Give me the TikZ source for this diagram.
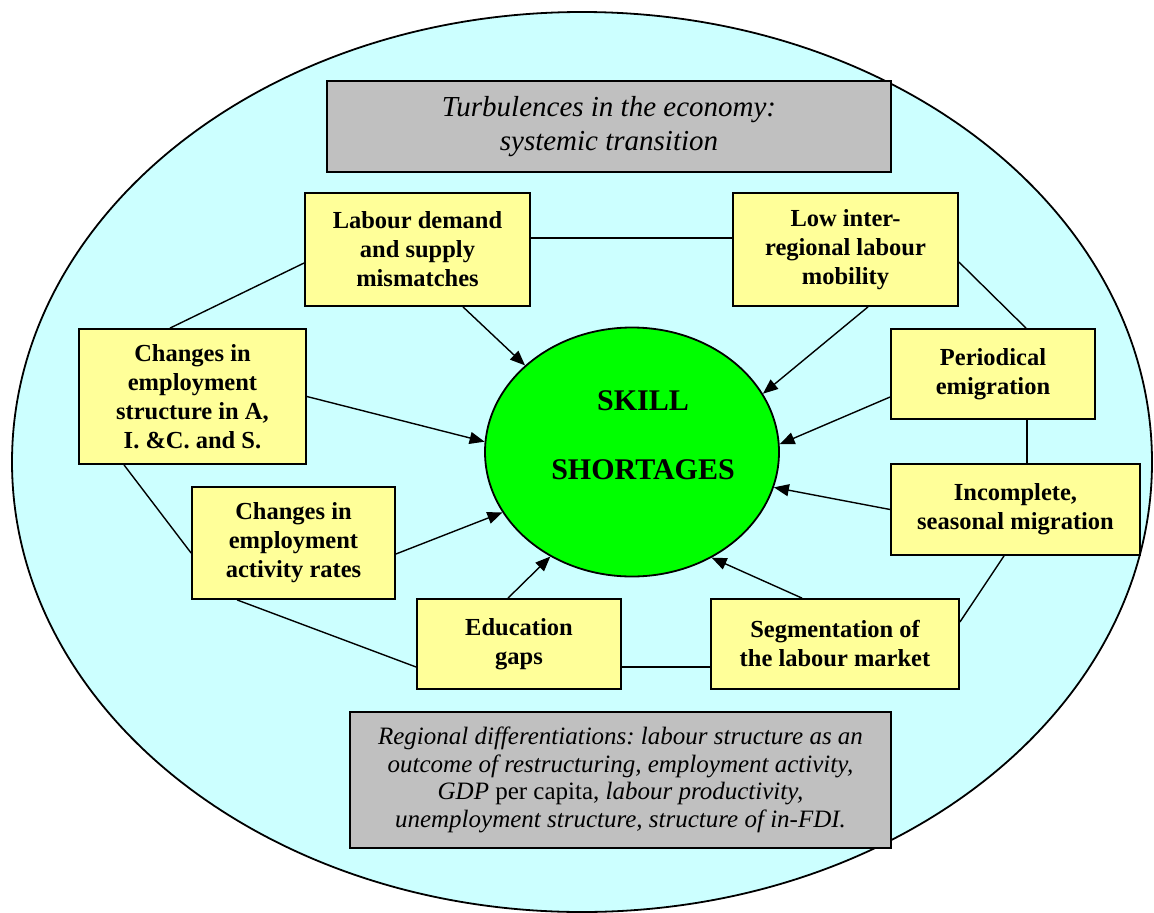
\documentclass[tikz,border=0pt]{standalone}
\usepackage{fontspec}
\setmainfont{Liberation Serif}
\usetikzlibrary{arrows.meta,shapes.geometric}
\definecolor{bgcyan}{HTML}{CCFFFF}
\definecolor{boxyellow}{HTML}{FFFF99}
\definecolor{boxgray}{HTML}{C0C0C0}
\definecolor{skillgreen}{HTML}{00FF00}
\frenchspacing
\begin{document}
\begin{tikzpicture}[x=1pt,y=-1pt,
  factor/.style={draw=black, line width=1.8pt, fill=boxyellow, align=center, inner sep=0pt,
    font=\fontsize{24.5}{29}\selectfont\bfseries},
  context/.style={draw=black, line width=1.8pt, fill=boxgray, align=center, inner sep=0pt},
  link/.style={line width=1.4pt},
  influence/.style={line width=1.4pt, -{Triangle[length=15pt,width=12pt]}},
  core/.style={font=\fontsize{30}{35}\selectfont\bfseries, inner sep=0pt}]
\useasboundingbox (0,0) rectangle (1154,913);
% outer field
\node[ellipse, draw=black, line width=1.8pt, fill=bgcyan, minimum width=1140pt, minimum height=900pt, inner sep=0pt] (outer) at (582,462) {};
% context boxes
\node[context, minimum width=564pt, minimum height=91pt, font=\fontsize{29}{34.5}\selectfont\itshape] (turb) at (609,126.5)
  {Turbulences in the economy:\\systemic transition};
\node[context, minimum width=541pt, minimum height=136pt, font=\fontsize{25}{27.5}\selectfont\itshape] (regio) at (620.5,780)
  {Regional differentiations: labour structure as an\\outcome of restructuring, employment activity,\\GDP {\upshape per capita,} labour productivity,\\unemployment structure, structure of in-FDI.};
% core
\node[ellipse, draw=black, line width=1.8pt, fill=skillgreen, minimum width=294pt, minimum height=249pt, inner sep=0pt] (skill) at (632,452) {};
\node[core] (skilla) at (643,401) {SKILL};
\node[core] (skillb) at (643,470) {SHORTAGES};
% factor boxes
\node[factor, minimum width=225pt, minimum height=113pt] (ld) at (417.5,249.5) {Labour demand\\and supply\\mismatches};
\node[factor, minimum width=225pt, minimum height=113pt] (lm) at (845.5,249.5) {Low inter-\\regional labour\\mobility};
\node[factor, minimum width=227pt, minimum height=135pt] (ces) at (192.5,396.5) {Changes in\\employment\\structure in A,\\I. \&C. and S.};
\node[factor, minimum width=203pt, minimum height=112pt] (car) at (293.5,543) {Changes in\\employment\\activity rates};
\node[factor, minimum width=204pt, minimum height=90pt] (eg) at (519,644) {Education\\gaps};
\node[factor, minimum width=248pt, minimum height=90pt] (sl) at (835,644) {Segmentation of\\the labour market};
\node[factor, minimum width=204pt, minimum height=90pt] (pe) at (993,374) {Periodical\\emigration};
\node[factor, minimum width=249pt, minimum height=91pt] (ism) at (1015.5,509.5) {Incomplete,\\seasonal migration};
% ring links
\draw[link] ([yshift=11.5pt]ld.east) -- ([yshift=11.5pt]lm.west);
\draw[link] ([yshift=-12.5pt]lm.east) -- ([xshift=33pt]pe.north);
\draw[link] ([xshift=34pt]pe.south) -- ([xshift=11.5pt]ism.north);
\draw[link] ([xshift=-11.5pt]ism.south) -- ([yshift=22pt]sl.east);
\draw[link] ([yshift=-23pt]sl.west) -- ([yshift=-23pt]eg.east);
\draw[link] ([yshift=-23pt]eg.west) -- ([xshift=-56.5pt]car.south);
\draw[link] ([yshift=-10pt]car.west) -- ([xshift=-68.5pt]ces.south);
\draw[link] ([xshift=-22.5pt]ces.north) -- ([yshift=-13.5pt]ld.west);
% influences
\draw[influence] ([xshift=45.5pt]ld.south) -- (skill.141.9);
\draw[influence] ([xshift=22.5pt]lm.south) -- (skill.24.9);
\draw[influence] (ces.east) -- (skill.176);
\draw[influence] ([yshift=-11pt]car.east) -- (skill.205);
\draw[influence] ([xshift=-11pt]eg.north) -- (skill.232.5);
\draw[influence] ([xshift=-33pt]sl.north) -- (skill.307.8);
\draw[influence] ([yshift=-23pt]pe.west) -- (skill.3.9);
\draw[influence] (ism.west) -- (skill.346);
\end{tikzpicture}
\end{document}
